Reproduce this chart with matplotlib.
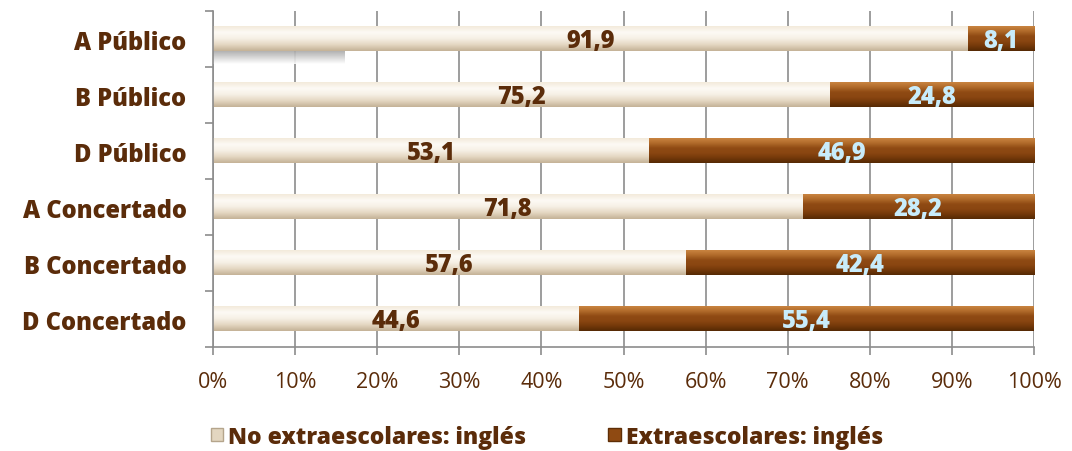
import numpy as np
import matplotlib.pyplot as plt
from matplotlib.colors import LinearSegmentedColormap
from matplotlib.patches import Rectangle

plt.rcParams['font.family'] = ['Open Sans', 'DejaVu Sans']

categorias = ['A Público', 'B Público', 'D Público',
              'A Concertado', 'B Concertado', 'D Concertado']
no_extra = [91.9, 75.2, 53.1, 71.8, 57.6, 44.6]
extra = [8.1, 24.8, 46.9, 28.2, 42.4, 55.4]
series = ['No extraescolares: inglés', 'Extraescolares: inglés']

marron = '#5b2c0a'
celeste = '#c8ecfb'
gris = '#8c8c8c'
peso = 800

# degradados verticales (de abajo arriba) para dar relieve a las barras
crema = LinearSegmentedColormap.from_list(
    'crema', ['#c4b296', '#e4d7c2', '#f6f0e5', '#fdfaf5', '#f3eadb'])
cobre = LinearSegmentedColormap.from_list(
    'cobre', ['#552904', '#74390a', '#8a4611', '#8f4a13', '#b06a2a', '#c98440'])

fig = plt.figure(figsize=(10.72, 4.52), dpi=100)
ax = fig.add_axes([0.1987, 0.230, 0.7659, 0.743])

n = len(categorias)
y = np.arange(n)[::-1]
alto = 0.43
grad = np.linspace(0, 1, 64).reshape(-1, 1)

for yi, a, b in zip(y, no_extra, extra):
    y0, y1 = yi - alto / 2, yi + alto / 2
    ax.imshow(grad, cmap=crema, extent=[0, a, y0, y1], origin='lower',
              aspect='auto', zorder=2, interpolation='bicubic')
    ax.imshow(grad, cmap=cobre, extent=[a, a + b, y0, y1], origin='lower',
              aspect='auto', zorder=2, interpolation='bicubic')
    ax.text(a / 2, yi - 0.03, f'{a:.1f}'.replace('.', ','), ha='center', va='center',
            color=marron, fontsize=17, fontweight=peso, zorder=4)
    ax.text(a + b / 2, yi - 0.03, f'{b:.1f}'.replace('.', ','), ha='center', va='center',
            color=celeste, fontsize=17, fontweight=peso, zorder=4)

# sombra gris bajo la primera barra
sombra = np.linspace(0, 1, 32).reshape(-1, 1)
ax.imshow(sombra, cmap=LinearSegmentedColormap.from_list('s', ['#ffffff', '#aaaaaa']),
          extent=[0, 16, y[0] - 0.44, y[0] - alto / 2], origin='lower',
          aspect='auto', zorder=1.5, alpha=0.9)

ax.set_xlim(0, 100)
ax.set_ylim(-0.5, n - 0.5)
ax.set_xticks(np.arange(0, 101, 10))
ax.set_xticklabels([f'{v}%' for v in range(0, 101, 10)])
ax.set_yticks(y)
ax.set_yticklabels(categorias, fontweight=peso)
ax.set_yticks(np.arange(-0.5, n, 1), minor=True)
ax.tick_params(axis='y', which='major', length=0, pad=19,
               labelsize=17, labelcolor=marron)
ax.tick_params(axis='y', which='minor', length=6, color=gris, width=1.2)
ax.tick_params(axis='x', length=6, color=gris, width=1.2, labelsize=15.5,
               labelcolor=marron, pad=11)
ax.grid(axis='x', color=gris, linewidth=1.2, zorder=0)
ax.set_axisbelow(True)
for s in ['top', 'right']:
    ax.spines[s].set_visible(False)
for s in ['left', 'bottom']:
    ax.spines[s].set_color(gris)
    ax.spines[s].set_linewidth(1.2)

handles = [Rectangle((0, 0), 1, 1, facecolor='#e3d6c0', edgecolor='#b5a58c'),
           Rectangle((0, 0), 1, 1, facecolor='#8f4a12', edgecolor='#5e2e06')]
leg = fig.legend(handles, series, loc='center', bbox_to_anchor=(0.51, 0.032),
                 ncol=2, frameon=False, handlelength=0.55, handleheight=0.55,
                 handletextpad=0.2, columnspacing=3.6,
                 prop={'size': 16.5, 'weight': peso})
for t in leg.get_texts():
    t.set_color(marron)

fig.savefig('out.png', dpi=100)
